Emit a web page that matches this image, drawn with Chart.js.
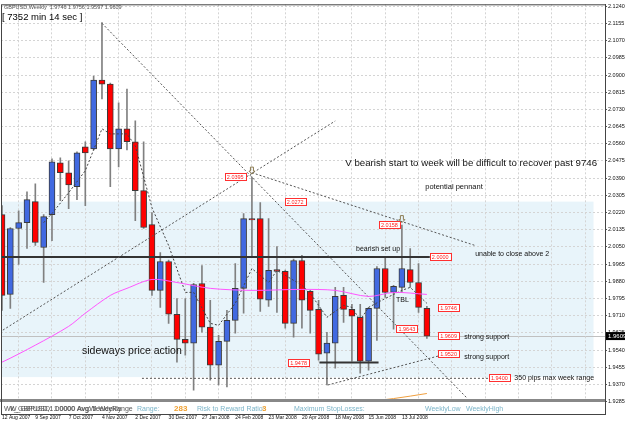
<!DOCTYPE html>
<html>
<head>
<meta charset="utf-8">
<script src="https://cdn.jsdelivr.net/npm/chart.js@4.4.1/dist/chart.umd.min.js"></script>
<style>
  html, body { margin: 0; padding: 0; background: #fff; }
  #wrap { width: 625px; height: 423px; }
</style>
</head>
<body>
<div id="wrap"><canvas id="chart" width="625" height="423"></canvas></div>
<script>
// GBPUSD weekly, week 0 = 12 Aug 2007
const opens  = [2.0210,1.9815,2.0141,2.0170,2.0274,2.0047,2.0210,2.0466,2.0417,2.0348,2.0545,2.0535,2.0875,2.0855,2.0535,2.0634,2.0570,2.0328,2.0160,1.9835,1.9978,1.9717,1.9593,1.9574,1.9869,1.9653,1.9465,1.9583,1.9687,1.9845,2.0190,2.0190,1.9786,1.9938,1.9929,1.9672,1.9983,1.9830,1.9741,1.9524,1.9574,1.9810,1.9741,1.9702,1.9485,1.9746,1.9943,1.9825,1.9850,1.9938,1.9874,1.9746];
const highs  = [2.0254,2.0145,2.0229,2.0323,2.0362,2.0210,2.0486,2.0491,2.0476,2.0520,2.0570,2.0895,2.1160,2.0860,2.0762,2.0831,2.0673,2.0570,2.0220,2.0022,1.9985,1.9795,1.9795,1.9870,1.9958,1.9786,1.9613,1.9736,1.9968,2.0215,2.0395,2.0269,2.0190,2.0052,1.9935,1.9990,2.0008,1.9835,1.9786,1.9628,1.9850,1.9850,1.9766,1.9766,1.9750,1.9953,1.9993,1.9860,2.0158,2.0042,1.9968,1.9756];
const lows   = [1.9736,1.9746,1.9963,2.0042,2.0057,1.9874,2.0081,2.0279,2.0239,2.0284,2.0254,2.0530,2.0782,2.0348,2.0446,2.0530,2.0180,2.0141,1.9810,1.9751,1.9672,1.9480,1.9515,1.9342,1.9628,1.9391,1.9367,1.9357,1.9623,1.9722,1.9998,1.9731,1.9756,1.9726,1.9648,1.9603,1.9648,1.9623,1.9490,1.9367,1.9450,1.9677,1.9485,1.9426,1.9440,1.9588,1.9800,1.9643,1.9825,1.9850,1.9726,1.9597];
const closes = [1.9810,2.0141,2.0170,2.0284,2.0072,2.0200,2.0471,2.0417,2.0357,2.0515,2.0515,2.0875,2.0855,2.0535,2.0634,2.0570,2.0328,2.0146,1.9835,1.9978,1.9717,1.9593,1.9574,1.9864,1.9653,1.9465,1.9583,1.9687,1.9845,2.0190,2.0184,1.9791,1.9934,1.9929,1.9672,1.9983,1.9786,1.9736,1.9519,1.9574,1.9805,1.9741,1.9707,1.9485,1.9746,1.9943,1.9825,1.9855,1.9943,1.9874,1.9751,1.9609];

const slowWeeks = [-1,0,4,8,10,13,15,18,21,25,30,36,40,44,47,51];
const slowMa    = [1.9470,1.9480,1.9564,1.9657,1.9722,1.9810,1.9845,1.9889,1.9874,1.9845,1.9835,1.9840,1.9835,1.9805,1.9825,1.9815];
const fastWeeks = [5,6,8,10,12,13,15,16,18,20,22,23,25,26,28,30,32,33,36,37,39,41,42,43,44,46,48,49,51];
const fastMa    = [2.0170,2.0215,2.0318,2.0427,2.0634,2.0609,2.0609,2.0550,2.0244,2.0057,1.9825,1.9825,1.9672,1.9662,1.9771,1.9943,1.9874,1.9934,1.9860,1.9820,1.9702,1.9761,1.9751,1.9687,1.9751,1.9795,1.9835,1.9850,1.9771];
const orangeWeeks = [45,47,49,51];
const orangeLine  = [1.9290,1.9300,1.9312,1.9325];

const dateLabels = ['12 Aug 2007','9 Sep 2007','7 Oct 2007','4 Nov 2007','2 Dec 2007','30 Dec 2007','27 Jan 2008','24 Feb 2008','23 Mar 2008','20 Apr 2008','18 May 2008','15 Jun 2008','13 Jul 2008'];
const labelWeeks = [0,4,8,12,16,20,24,28,32,36,40,44,48];
const gridWeeks  = [2,6,10,14,18,22,26,30,34,38,42,46,50,54,58,62,66,70];
const yTicks = [1.9285,1.9370,1.9455,1.9540,1.9625,1.9710,1.9795,1.9880,1.9965,2.0050,2.0135,2.0220,2.0305,2.0390,2.0475,2.0560,2.0645,2.0730,2.0815,2.0900,2.0985,2.1070,2.1155,2.1240];

// drawn objects on the chart (week, price)
const trendLines = [
  [[12, 2.1156], [55.8, 1.9303]],
  [[-0.3, 1.9628], [40, 2.0673]],
  [[30, 2.0417], [56.8, 2.0057]],
  [[39.1, 1.9367], [52.8, 1.9515]]
];
const setupLine = [[-1, 2.0000], [51.6, 2.0000]];
const baseLine  = [[38.1, 1.9478], [45.2, 1.9478]];
const rangeLine = [[16.8, 1.9400], [58.6, 1.9400]];
const zone = { from: -1, to: 71, top: 2.0274, bottom: 1.9406 };

const priceTags = [
  ['2.0395', 28.0, 2.0395], ['2.0272', 35.2, 2.0272], ['2.0158', 46.5, 2.0158],
  ['2.0000', 52.6, 2.0000], ['1.9746', 53.6, 1.9746], ['1.9643', 48.6, 1.9643],
  ['1.9609', 53.6, 1.9609], ['1.9520', 53.6, 1.9520], ['1.9400', 59.7, 1.9400],
  ['1.9478', 35.6, 1.9478]
];
const notes = [
  ['V bearish start to week will be difficult to recover past 9746', 41.2, 2.0461, 9.7],
  ['potential pennant', 50.8, 2.0348, 7.5],
  ['unable to close above 2', 56.8, 2.0017, 7],
  ['bearish set up', 42.5, 2.0037, 7],
  ['TBL', 47.3, 1.9786, 7],
  ['strong support', 55.5, 1.9603, 7],
  ['strong support', 55.5, 1.9505, 7],
  ['350 pips max week range', 61.5, 1.9401, 7],
  ['sideways price action', 9.6, 1.9534, 10.5]
];
const fractals = [[30, 2.0420], [48, 2.0180]];
const lastPrice = 1.9609;

const bull = '#4169e1', bear = '#ff0000';
const bodyColors = opens.map((o, i) => closes[i] >= o ? bull : bear);
const pts = (xs, ys) => xs.map((x, i) => ({ x: x, y: ys[i] }));
const seg = (p, dash, color, width) => ({
  type: 'line', data: p.map(q => ({ x: q[0], y: q[1] })),
  borderColor: color, borderWidth: width, borderDash: dash,
  pointRadius: 0, fill: false, order: -1
});

const F = '"Liberation Sans", Arial, sans-serif';

const drawings = {
  id: 'drawings',
  beforeDraw(chart) {
    const { ctx, chartArea: a, scales: { x, y } } = chart;
    ctx.save();
    ctx.fillStyle = '#fff';
    ctx.fillRect(0, 0, chart.width, chart.height);
    ctx.beginPath();
    ctx.rect(a.left, a.top, a.right - a.left, a.bottom - a.top);
    ctx.clip();
    const x0 = x.getPixelForValue(zone.from), x1 = x.getPixelForValue(zone.to);
    const y0 = y.getPixelForValue(zone.top), y1 = y.getPixelForValue(zone.bottom);
    ctx.fillStyle = '#e8f4fa';
    ctx.fillRect(x0, y0, x1 - x0, y1 - y0);
    // current price line
    ctx.strokeStyle = '#c0c0c0';
    ctx.lineWidth = 1;
    const yl = Math.round(y.getPixelForValue(lastPrice)) + 0.5;
    ctx.beginPath(); ctx.moveTo(a.left, yl); ctx.lineTo(a.right, yl); ctx.stroke();
    ctx.restore();
  },
  afterDatasetsDraw(chart) {
    const { ctx, chartArea: a, scales: { x, y } } = chart;
    ctx.save();
    // notes
    ctx.fillStyle = '#111';
    ctx.textBaseline = 'middle';
    notes.forEach(n => {
      ctx.font = n[3] + 'px ' + F;
      ctx.fillText(n[0], x.getPixelForValue(n[1]), y.getPixelForValue(n[2]));
    });
    // price tags
    ctx.font = '5.5px ' + F;
    priceTags.forEach(t => {
      const cx = x.getPixelForValue(t[1]), cy = Math.round(y.getPixelForValue(t[2]));
      const w = ctx.measureText(t[0]).width + 4;
      ctx.fillStyle = '#fff';
      ctx.fillRect(cx - w / 2, cy - 3.5, w, 7);
      ctx.strokeStyle = '#ff3030';
      ctx.lineWidth = 1;
      ctx.strokeRect(Math.round(cx - w / 2) + 0.5, cy - 3.5, Math.round(w), 7);
      ctx.fillStyle = '#ff2020';
      ctx.textAlign = 'center';
      ctx.fillText(t[0], cx, cy + 0.5);
    });
    // fractal arrows
    ctx.strokeStyle = '#8a7a50';
    fractals.forEach(f => {
      const cx = x.getPixelForValue(f[0]), cy = y.getPixelForValue(f[1]);
      ctx.beginPath();
      ctx.moveTo(cx - 1.5, cy - 5); ctx.lineTo(cx + 1.5, cy - 5); ctx.lineTo(cx + 1.5, cy - 1);
      ctx.lineTo(cx + 3, cy - 1); ctx.lineTo(cx, cy + 2); ctx.lineTo(cx - 3, cy - 1);
      ctx.lineTo(cx - 1.5, cy - 1); ctx.closePath(); ctx.stroke();
    });
    ctx.textAlign = 'left';
    // header
    ctx.fillStyle = '#555';
    ctx.font = '5.5px ' + F;
    ctx.fillText('GBPUSD,Weekly  1.9746 1.9756 1.9597 1.9609', 4, 7);
    ctx.fillStyle = '#000';
    ctx.font = '9.5px ' + F;
    ctx.fillText('[ 7352 min 14 sec ]', 2, 17);
    // indicator window
    ctx.fillStyle = '#fff';
    ctx.fillRect(a.left, 402, a.right - a.left, a.bottom - 402);
    ctx.fillStyle = '#888';
    ctx.fillRect(0, 399, a.right, 3);
    ctx.font = '7px ' + F;
    ctx.fillStyle = '#555';
    ctx.fillText('Wk_GBPUSD,1.00000 Avg: 5 Weekly', 4, 409);
    ctx.fillText('W_GBPUSD: 1:0000 AvgWeeklyRange', 10, 409);
    ctx.fillStyle = '#7bb4c8';
    ctx.fillText('Range:', 137, 409);
    ctx.fillText('Risk to Reward Ratio:', 197, 409);
    ctx.fillText('Maximum StopLosses:', 294, 409);
    ctx.fillText('WeeklyLow', 425, 409);
    ctx.fillText('WeeklyHigh', 466, 409);
    ctx.fillStyle = '#f0a030';
    ctx.font = 'bold 8px ' + F;
    ctx.fillText('283', 174, 409);
    ctx.fillText('3', 262, 409);
    // frame
    ctx.strokeStyle = '#444';
    ctx.lineWidth = 1;
    ctx.strokeRect(a.left + 0.5, a.top + 0.5, a.right - a.left, a.bottom - a.top);
    // last price tag on axis
    const yp = y.getPixelForValue(lastPrice);
    ctx.fillStyle = '#000';
    ctx.fillRect(a.right + 1, yp - 4, 19, 8);
    ctx.fillStyle = '#fff';
    ctx.font = '6px ' + F;
    ctx.fillText(lastPrice.toFixed(4), a.right + 3, yp + 0.5);
    ctx.restore();
  }
};

new Chart(document.getElementById('chart'), {
  type: 'bar',
  data: {
    datasets: [
      {
        data: opens.map((o, i) => ({ x: i, y: [o, closes[i]] })),
        backgroundColor: bodyColors, borderColor: '#3a3a3a', borderWidth: 1,
        borderSkipped: false, barThickness: 6, grouped: false, order: 0
      },
      {
        data: lows.map((l, i) => ({ x: i, y: [l, highs[i]] })),
        backgroundColor: '#808080', borderWidth: 0,
        barThickness: 1, grouped: false, order: 1
      },
      seg(trendLines[0], [2, 2], '#555', 1),
      seg(trendLines[1], [2, 2], '#555', 1),
      seg(trendLines[2], [2, 2], '#555', 1),
      seg(trendLines[3], [2, 2], '#555', 1),
      seg(setupLine, [], '#333', 2),
      seg(baseLine, [], '#333', 2),
      seg(rangeLine, [2, 2], '#555', 1),
      { type: 'line', data: pts(slowWeeks, slowMa), borderColor: '#ff55ff', borderWidth: 1,
        pointRadius: 0, tension: 0.3, order: -2 },
      { type: 'line', data: pts(fastWeeks, fastMa), borderColor: '#444', borderWidth: 1,
        borderDash: [2, 2], pointRadius: 0, order: -2 },
      { type: 'line', data: pts(orangeWeeks, orangeLine), borderColor: '#f0a040', borderWidth: 1,
        pointRadius: 0, order: -2 }
    ]
  },
  options: {
    responsive: false,
    animation: false,
    devicePixelRatio: 1,
    layout: { padding: { top: 3, left: 1, right: 0, bottom: 0 } },
    plugins: { legend: { display: false }, tooltip: { enabled: false } },
    scales: {
      x: {
        type: 'linear', min: -0.12, max: 72.38, position: 'bottom', offset: false,
        afterBuildTicks: s => { s.ticks = labelWeeks.map(v => ({ value: v })); },
        afterFit: s => { s.height = 9; },
        ticks: {
          autoSkip: false, maxRotation: 0, align: 'start', padding: 1, color: '#111',
          font: { size: 5, family: F },
          callback: (v) => dateLabels[labelWeeks.indexOf(v)] || ''
        },
        grid: { display: false, drawTicks: false },
        border: { display: false }
      },
      x2: {
        type: 'linear', min: -0.12, max: 72.38, position: 'bottom', offset: false,
        afterBuildTicks: s => { s.ticks = gridWeeks.map(v => ({ value: v })); },
        afterFit: s => { s.height = 0; },
        ticks: { display: false },
        grid: { color: '#d4d4d4', drawTicks: false, offset: false },
        border: { display: false, dash: [2, 2] }
      },
      y: {
        position: 'right', min: 1.92236, max: 2.12499,
        afterBuildTicks: s => { s.ticks = yTicks.map(v => ({ value: v })); },
        afterFit: s => { s.width = 20; },
        ticks: {
          padding: 1, color: '#111', font: { size: 5.5, family: F },
          callback: v => v.toFixed(4)
        },
        grid: { color: '#d4d4d4', tickLength: 2, tickColor: '#555' },
        border: { display: true, color: '#444', dash: [2, 2] }
      }
    }
  },
  plugins: [drawings]
});
</script>
</body>
</html>
